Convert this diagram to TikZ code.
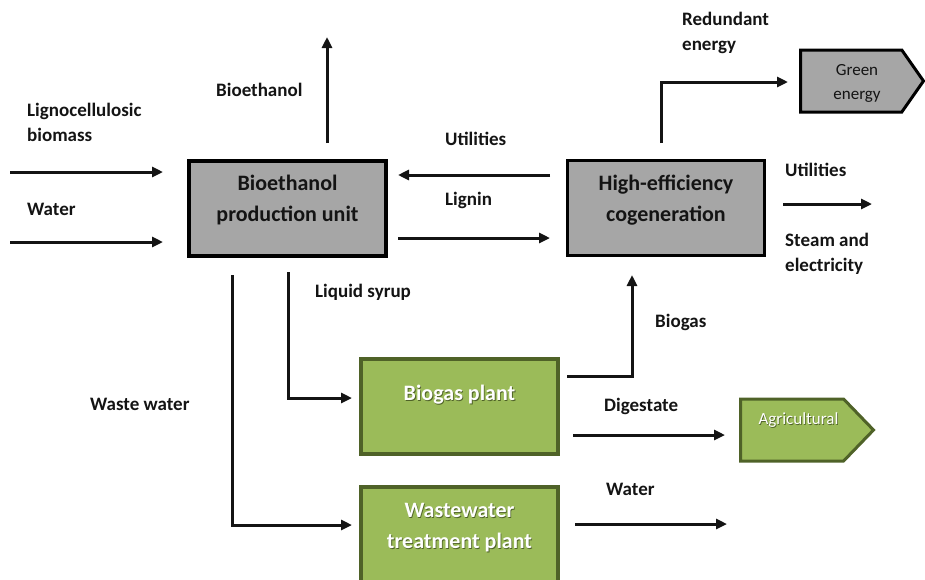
\documentclass[tikz,border=0pt]{standalone}
\usepackage{fontspec}
\setmainfont{Carlito}
\usetikzlibrary{arrows.meta,shapes.symbols}
\definecolor{boxgray}{HTML}{A6A6A6}
\definecolor{leaf}{HTML}{9BBB59}
\definecolor{leafdark}{HTML}{4F6228}
\definecolor{ink}{HTML}{141414}
\begin{document}
\begin{tikzpicture}[x=1pt,y=-1pt,
  flow/.style={line width=3pt,draw=ink,-{Triangle[length=11pt,width=10pt]}},
  unitbox/.style={draw=black,line width=3.5pt,fill=boxgray,minimum width=197pt,minimum height=95pt,inner sep=0pt},
  plantbox/.style={draw=leafdark,line width=3.5pt,fill=leaf,minimum width=197pt,minimum height=95pt,inner sep=0pt},
  lbl/.style={font=\bfseries\fontsize{19}{25}\selectfont,align=left,inner sep=0pt,text=ink,anchor=west},
  boxtxt/.style={font=\bfseries\fontsize{22}{31}\selectfont,align=center,inner sep=0pt,text=ink},
  plantxt/.style={font=\bfseries\fontsize{22}{31}\selectfont,align=center,inner sep=0pt,text=white},
  shadetxt/.style={font=\bfseries\fontsize{22}{31}\selectfont,align=center,inner sep=0pt,text=leafdark},
  tagtxt/.style={font=\fontsize{17}{24}\selectfont,align=center,inner sep=0pt},
  outlet/.style={signal,signal to=east,line width=3pt,inner sep=0pt,minimum height=62pt,anchor=west}
]
\path[use as bounding box] (0,0) rectangle (925,579);
\clip (0,0) rectangle (925,579);

% process units
\node[unitbox] (bio) at (287.5,208.5) {};
\node[boxtxt] (biot) at (287.5,200) {Bioethanol\\production unit};
\node[unitbox] (cogen) at (666,208) {};
\node[boxtxt] (cogent) at (666,200) {High-efficiency\\cogeneration};
\node[plantbox] (biogas) at (459.5,406.5) {};
\node[shadetxt] (biogass) at (460.3,395.8) {Biogas plant};
\node[plantxt] (biogast) at (459.5,395) {Biogas plant};
\node[plantbox] (wwtp) at (459.5,534.5) {};
\node[shadetxt] (wwtps) at (460.3,528.8) {Wastewater\\treatment plant};
\node[plantxt] (wwtpt) at (459.5,528) {Wastewater\\treatment plant};

% outlets
\node[outlet,draw=black,fill=boxgray,minimum width=123pt,signal pointer angle=110] (green) at (799,81) {};
\node[tagtxt,text=ink] (greent) at (857,83) {Green\\energy};
\node[outlet,draw=leafdark,fill=leaf,minimum width=133pt,signal pointer angle=92] (agri) at (739,430) {};
\node[tagtxt,text=leafdark] (agris) at (799.3,420.8) {Agricultural};
\node[tagtxt,text=white] (agrit) at (798.5,420) {Agricultural};

% connector end points
\coordinate (lig0) at (10,172);   \coordinate (lig1) at (163,172);
\coordinate (wat0) at (10,242);   \coordinate (wat1) at (163,242);
\coordinate (eth0) at (327,143);  \coordinate (eth1) at (327,37);
\coordinate (utl0) at (550,175);  \coordinate (utl1) at (398,175);
\coordinate (lgn0) at (398,238);  \coordinate (lgn1) at (550,238);
\coordinate (red0) at (661,143);  \coordinate (red1) at (788,82);
\coordinate (out0) at (783,204);  \coordinate (out1) at (872,204);
\coordinate (syr0) at (288,272);  \coordinate (syr1) at (352,398);
\coordinate (ww0)  at (232,275);  \coordinate (ww1)  at (352,525);
\coordinate (gas0) at (567,376);  \coordinate (gas1) at (632,275);
\coordinate (dig0) at (573,435);  \coordinate (dig1) at (725,435);
\coordinate (h2o0) at (575,524);  \coordinate (h2o1) at (727,524);

% flows
\draw[flow] (lig0) -- (lig1);
\draw[flow] (wat0) -- (wat1);
\draw[flow] (eth0) -- (eth1);
\draw[flow] (utl0) -- (utl1);
\draw[flow] (lgn0) -- (lgn1);
\draw[flow] (red0) |- (red1);
\draw[flow] (out0) -- (out1);
\draw[flow] (syr0) |- (syr1);
\draw[flow] (ww0) |- (ww1);
\draw[flow] (gas0) -| (gas1);
\draw[flow] (dig0) -- (dig1);
\draw[flow] (h2o0) -- (h2o1);

% stream labels
\node[lbl] (l1) at (27,122.5) {Lignocellulosic\\biomass};
\node[lbl] (l2) at (27,209) {Water};
\node[lbl] (l3) at (216,90) {Bioethanol};
\node[lbl] (l4) at (445,139) {Utilities};
\node[lbl] (l5) at (445,200) {Lignin};
\node[lbl] (l6) at (682,32.5) {Redundant\\energy};
\node[lbl] (l7) at (785,170) {Utilities};
\node[lbl] (l8) at (785,254) {Steam and\\electricity};
\node[lbl] (l9) at (315,292) {Liquid syrup};
\node[lbl] (l10) at (655,322) {Biogas};
\node[lbl] (l11) at (90,404) {Waste water};
\node[lbl] (l12) at (604,406) {Digestate};
\node[lbl] (l13) at (606,489) {Water};
\end{tikzpicture}
\end{document}
